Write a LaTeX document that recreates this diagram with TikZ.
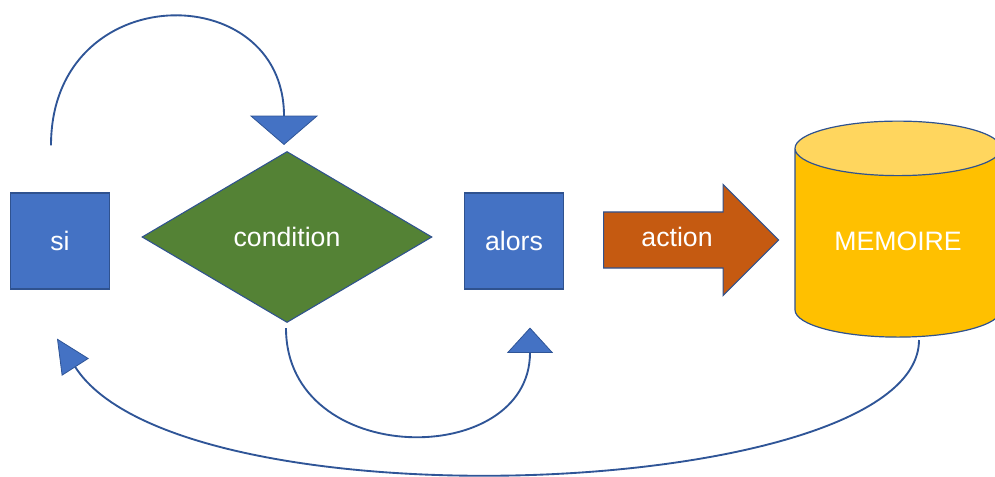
\documentclass[tikz,border=0pt]{standalone}
\usepackage{fontspec}
\setmainfont{Liberation Sans}
\usetikzlibrary{arrows.meta,calc,positioning,shapes.geometric,shapes.arrows}
\definecolor{boxblue}{HTML}{4472C4}
\definecolor{edgeblue}{HTML}{2F528F}
\definecolor{lineblue}{HTML}{2F5597}
\definecolor{condgreen}{HTML}{548235}
\definecolor{actorange}{HTML}{C55A11}
\definecolor{memgold}{HTML}{FFC000}
\definecolor{memtop}{HTML}{FFD65E}
\tikzset{
	label font/.style={text=white, font=\fontsize{20}{24}\selectfont},
	flow/.style={draw=lineblue, line width=1.4pt},
	head/.style={-{Triangle[width=#1, fill=boxblue, line width=0.6pt]}}
}

\begin{document}
\begin{tikzpicture}[x=0.75pt, y=-0.75pt,
		StepBox/.style={draw=edgeblue, fill=boxblue, line width=0.8pt, minimum width=74pt, minimum height=72pt, label font},
		Decision/.style={diamond, draw=edgeblue, fill=condgreen, line width=0.8pt, inner sep=0pt, minimum width=217.5pt, minimum height=128.25pt, label font},
		Action/.style={single arrow, draw=edgeblue, fill=actorange, line width=0.8pt, minimum height=131.25pt, text height=14pt, text depth=4pt, inner ysep=11.6pt, single arrow head extend=20.6pt, single arrow head indent=0pt, label font},
		Store/.style={cylinder, shape border rotate=90, aspect=0.4, draw=edgeblue, line width=0.9pt, cylinder uses custom fill, cylinder body fill=memgold, cylinder end fill=memtop, minimum width=154.5pt, minimum height=162pt, text depth=8pt, label font}]
		\useasboundingbox (0,0) rectangle (995,477);
		\node[StepBox] (si) at (60,241) {si};
		\node[Decision] (cond) at (287,237) {condition};
		\node[StepBox] (alors) at (514,241) {alors};
		\node[Action, anchor=tail] (act) at (603,240) {action};
		\node[Store] (mem) at (898,247) {MEMOIRE};
		\coordinate (siTop) at ($(si.north)+(-9,-47)$);
		\coordinate (memFoot) at (919,340);
		\draw[flow, head={51pt, length=22pt}] (siTop) .. controls +(0,-168) and +(0,-168) .. ($(cond.north)+(-3,-6)$);
		\draw[flow, head={34.5pt, length=19pt}] ($(cond.south)+(-1,5)$) .. controls +(0,141) and +(0,142) .. ($(alors.south)+(16,38)$);
		\draw[flow, head={24pt, length=25.5pt}] (memFoot) .. controls +(0,160) and +(123,192) .. ($(si.south)+(-3,49)$);
	\end{tikzpicture}
\end{document}
